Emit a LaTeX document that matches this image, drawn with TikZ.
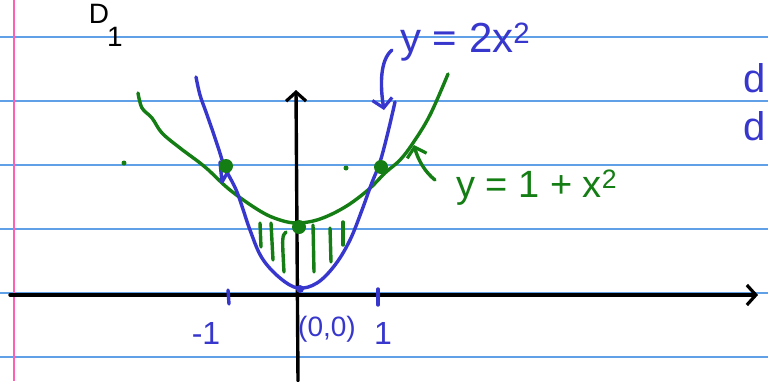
\documentclass[tikz,border=0pt]{standalone}
\usepackage{fontspec}
\setmainfont{Liberation Sans}
\usetikzlibrary{arrows.meta}
\definecolor{ink}{RGB}{55,55,205}
\definecolor{grn}{RGB}{20,125,20}
\definecolor{rulec}{RGB}{95,160,230}
\definecolor{marginc}{RGB}{255,95,180}
\tikzset{
  ruleline/.style={rulec, line width=1.2pt},
  axisline/.style={black, line width=3.4pt, line cap=round},
  bluecurve/.style={ink, line width=3.4pt, line cap=round, line join=round},
  greencurve/.style={grn, line width=3.4pt, line cap=round, line join=round},
  hatch/.style={grn, line width=3.4pt, line cap=round},
  gdot/.style={circle, fill=grn, inner sep=0pt, minimum size=14pt},
  bdot/.style={circle, fill=ink, inner sep=0pt, minimum size=8pt},
  bluetext/.style={ink, inner sep=0pt},
  greentext/.style={grn, inner sep=0pt},
  barb/.style={-{Straight Barb[length=9pt,width=20pt,line width=3.2pt]}}
}
\begin{document}
\begin{tikzpicture}[x=1pt,y=-1pt]
\useasboundingbox (0,0) rectangle (768,381);
\fill[white] (0,0) rectangle (768,381);
% ruled paper
\foreach \yy in {37,101,165,229,293,357}
  \draw[ruleline] (0,\yy) -- (768,\yy);
\draw[marginc, line width=1.3pt] (14,0) -- (14,381);

% title
\node[inner sep=0pt, font=\fontsize{28}{28}\selectfont] (D) at (99,14) {D};
\node[inner sep=0pt, font=\fontsize{28}{28}\selectfont] (Dsub) at (115,37) {1};

% axes
\coordinate (xs) at (10,295);
\coordinate (xe) at (758,295);
\coordinate (ys) at (298,381);
\coordinate (ye) at (296,90);
\draw[axisline, barb] (xs) -- (xe);
\draw[axisline, barb] (ys) -- (ye);

% ticks
\coordinate (t1a) at (228,290); \coordinate (t1b) at (229,304);
\coordinate (t2a) at (378,289); \coordinate (t2b) at (378,305);
\draw[bluecurve] (t1a) -- (t1b);
\draw[bluecurve] (t2a) -- (t2b);
\node[bluetext, font=\fontsize{32}{32}\selectfont] (lm1) at (206,333) {-1};
\node[bluetext, font=\fontsize{28}{28}\selectfont] (l00) at (327,329) {(0,0)};
\node[bluetext, font=\fontsize{32}{32}\selectfont] (l1) at (383,333) {1};

% shading strokes
\draw[hatch] (260,223) -- (261,247);
\draw[hatch] (271,223) -- (273,260);
\draw[hatch] (286,232) .. controls (282,236) .. (284,272);
\draw[hatch] (313,225) -- (314,272);
\draw[hatch] (330,228) -- (331,262);
\draw[hatch] (343,222) -- (343,245);

% green parabola y = 1 + x^2
\draw[greencurve] plot[smooth, tension=0.6] coordinates {
 (138,93) (142,108) (152,118) (162,133) (180,148) (205,167) (230,190)
 (260,211) (280,220) (298,223) (320,219) (345,207) (368,190)
 (385,173) (400,160) (413,143) (430,115) (448,74)};

% blue parabola y = 2x^2
\draw[bluecurve] plot[smooth, tension=0.6] coordinates {
 (196,77) (200,95) (206,112) (213,132) (219,150) (225,168) (237,192)
 (250,230) (262,258) (280,278) (298,288) (317,283) (335,265) (350,240)
 (362,210) (371,185) (380,162) (388,132) (395,102)};
\draw[bluecurve] (220,162) -- (222,182) -- (229,170);

% points
\node[gdot] (pL) at (226,166) {};
\node[gdot] (pC) at (299,227) {};
\node[gdot] (pR) at (381,167) {};
\node[bdot] (pO) at (300,289) {};
\node[gdot, minimum size=5pt] (s1) at (124,163) {};
\node[gdot, minimum size=5pt] (s2) at (346,168) {};

% labels
\node[bluetext, font=\fontsize{42}{42}\selectfont, anchor=west] (lb) at (400,42) {y = 2x$^{\mathrm{2}}$};
\node[greentext, font=\fontsize{38}{38}\selectfont, anchor=west] (lg) at (456,188) {y = 1 + x$^{\mathrm{2}}$};

% arrows from labels
\coordinate (ab1) at (392,50);
\coordinate (ab2) at (384,110);
\draw[bluecurve, barb] (ab1) .. controls (380,60) and (380,85) .. (ab2);
\coordinate (ag1) at (435,180);
\coordinate (ag2) at (414,145);
\draw[greencurve, barb] (ag1) .. controls (425,172) and (418,160) .. (ag2);

% text at the right edge
\node[bluetext, font=\fontsize{40}{40}\selectfont, anchor=east] (dtop) at (766,78) {d};
\node[bluetext, font=\fontsize{40}{40}\selectfont, anchor=east] (dbot) at (766,126) {d};
\end{tikzpicture}
\end{document}
